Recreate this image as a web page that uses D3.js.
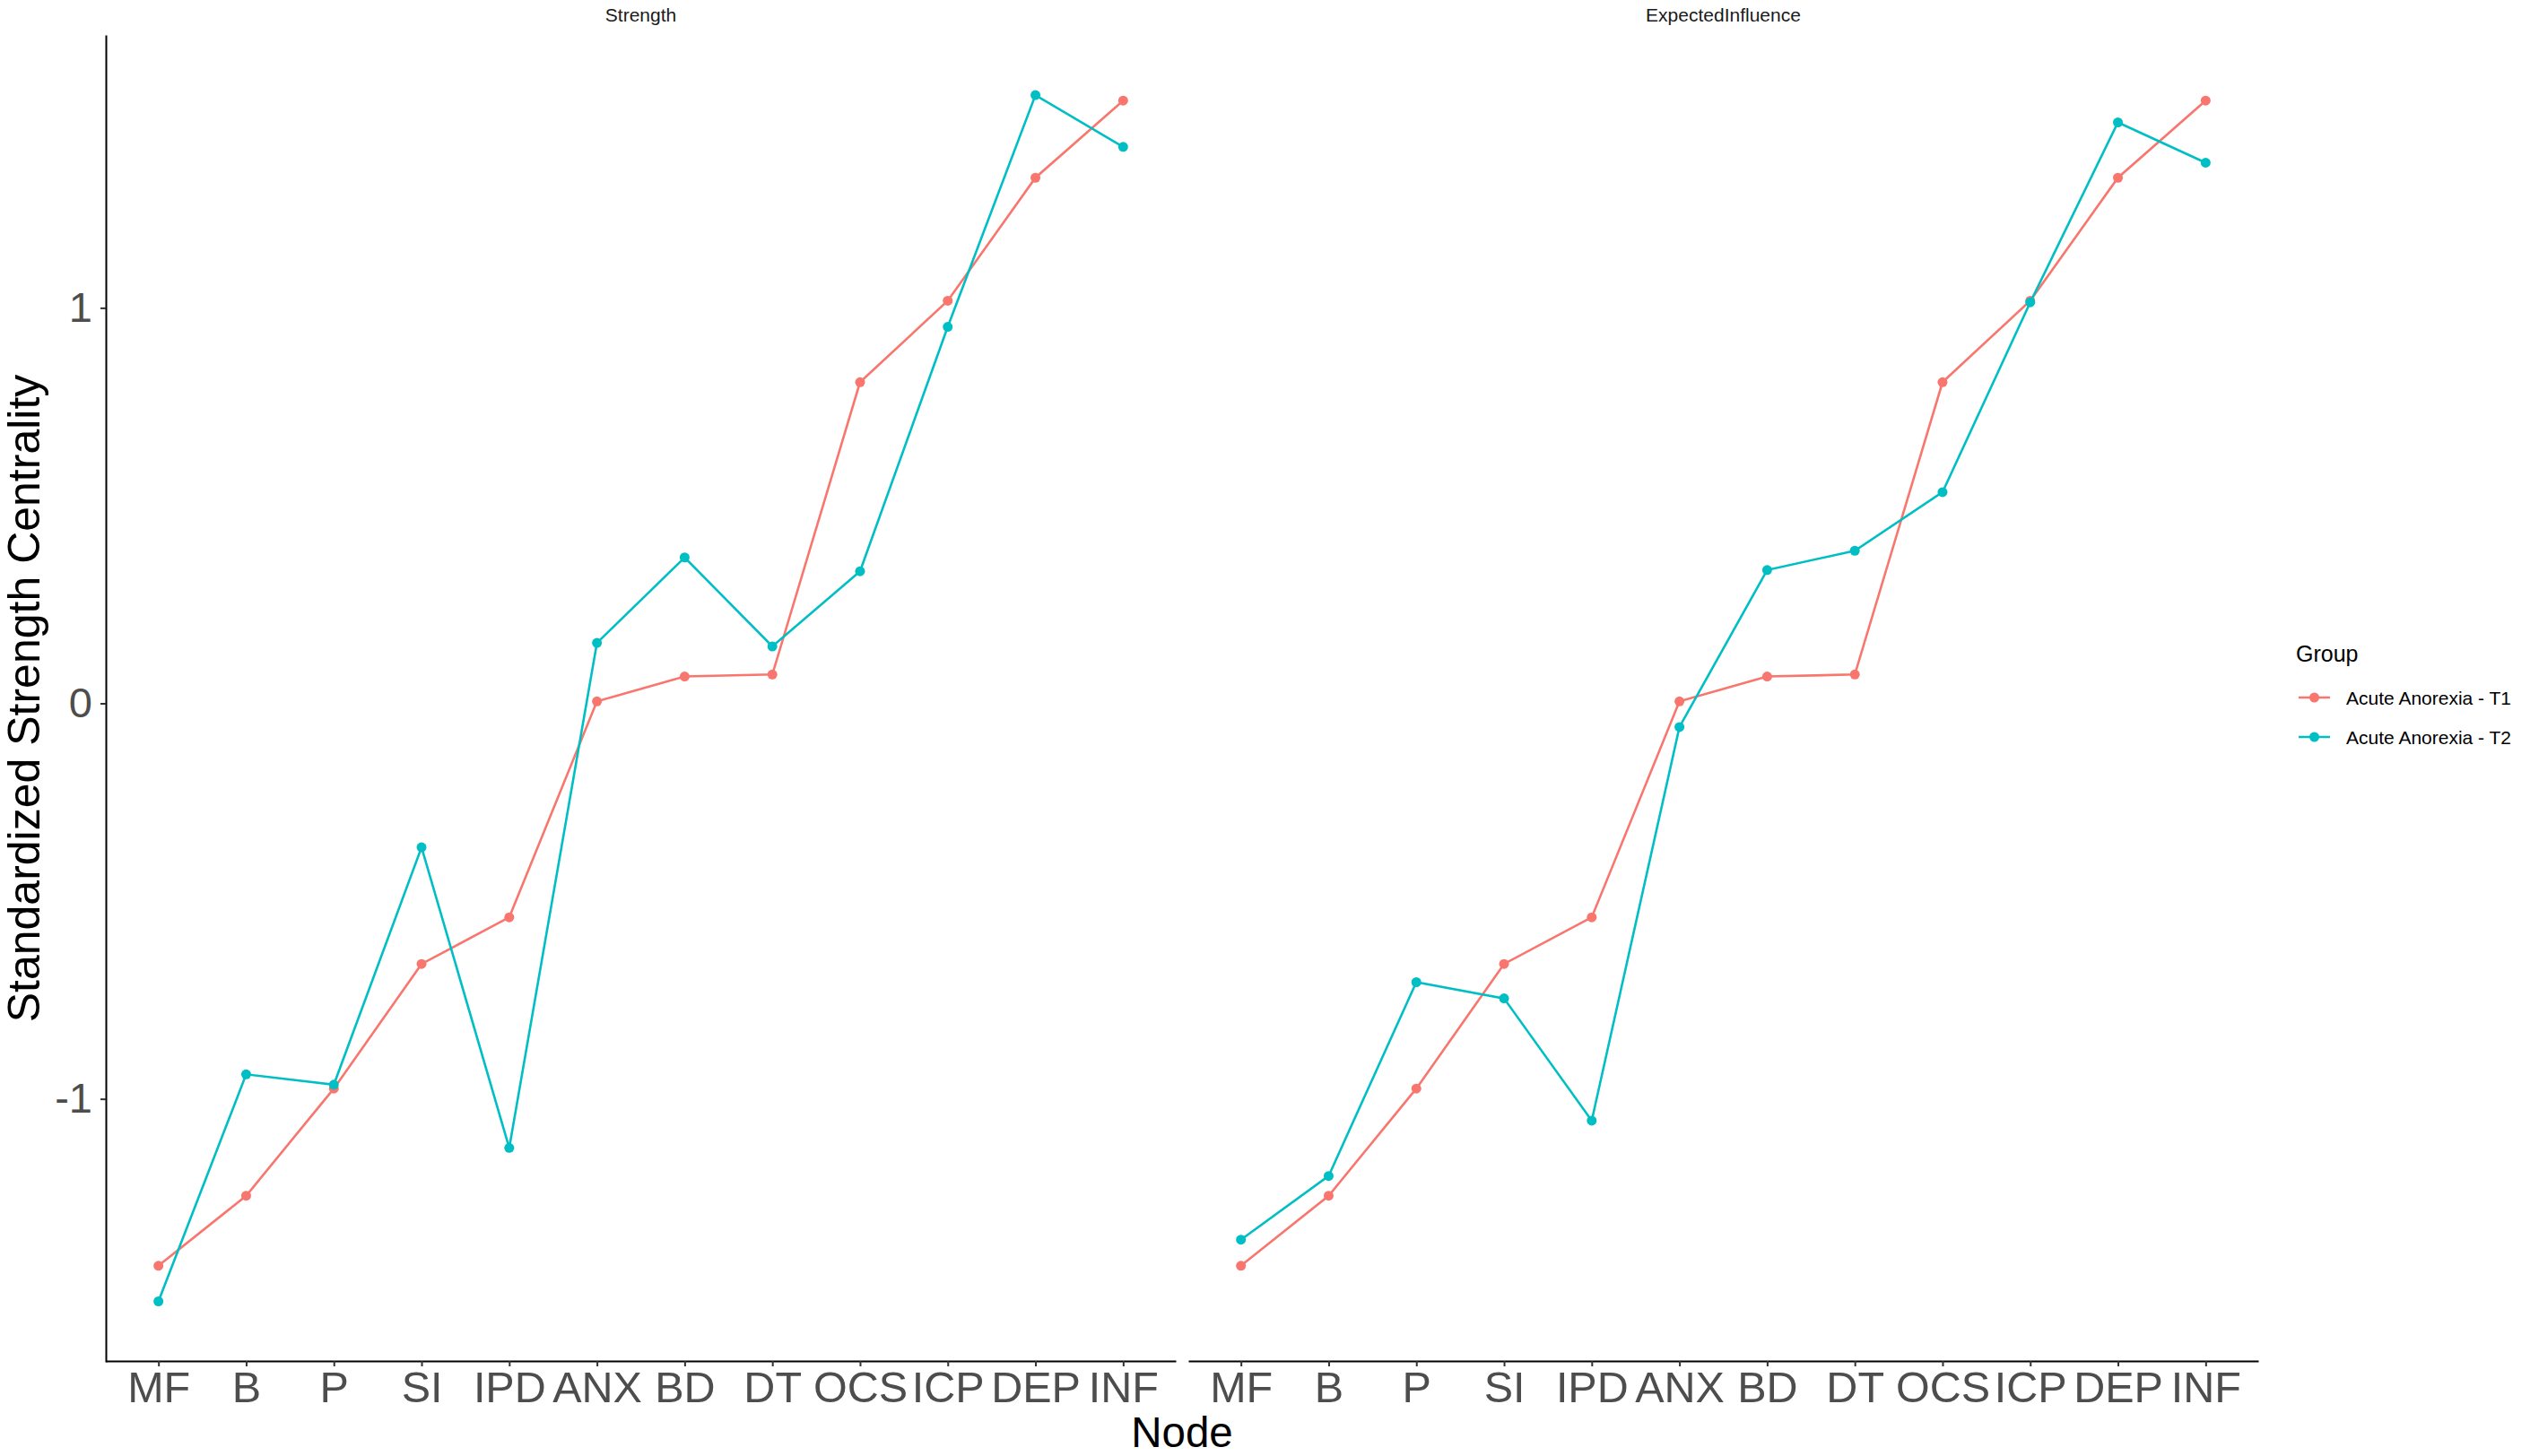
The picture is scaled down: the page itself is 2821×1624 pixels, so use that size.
<!DOCTYPE html>
<meta charset="utf-8">
<head>
    <script type="text/javascript" src="https://cdn.jsdelivr.net/npm/d3@7/dist/d3.min.js"></script>
    <style>
    body { margin: 0; background: #fff; }
    text { font-family: "Liberation Sans", Arial, sans-serif; }
    </style>
    <title>Standardized Strength Centrality</title>
</head>
<body>
<script>

    // chart values
    var nodes = ["MF", "B", "P", "SI", "IPD", "ANX", "BD", "DT", "OCS", "ICP", "DEP", "INF"];
    var panels = ["Strength", "ExpectedInfluence"];
    var groups = ["Acute Anorexia - T1", "Acute Anorexia - T2"];

    var strengthT1 = [-1.422, -1.245, -0.974, -0.659, -0.541, 0.005, 0.068, 0.073, 0.812, 1.018, 1.329, 1.524];
    var strengthT2 = [-1.512, -0.938, -0.964, -0.364, -1.124, 0.153, 0.369, 0.144, 0.334, 0.952, 1.538, 1.407];
    var influenceT1 = [-1.422, -1.245, -0.974, -0.659, -0.541, 0.005, 0.068, 0.073, 0.812, 1.018, 1.329, 1.524];
    var influenceT2 = [-1.356, -1.195, -0.705, -0.746, -1.055, -0.060, 0.337, 0.386, 0.534, 1.014, 1.469, 1.367];

    var yTicks = [-1, 0, 1];

    var colors = ["#F8766D", "#00BFC4"];

    var width = 2821, height = 1624;
    var plotTop = 39, plotBottom = 1519;
    var panelRanges = [[118, 1311], [1325, 2518]];

    var svg = d3.select('body')
        .append('svg')
        .attr('width', width)
        .attr('height', height);

    var y = d3.scaleLinear()
        .domain([-1.665, 1.69])
        .range([plotBottom, plotTop]);

    var seriesByPanel = [
        [strengthT1, strengthT2],
        [influenceT1, influenceT2]
    ];

    panels.forEach(function (name, p) {
        var x = d3.scalePoint()
            .domain(nodes)
            .range(panelRanges[p])
            .padding(0.6);

        var g = svg.append("g").attr("class", "panel");

        // panel title
        g.append("text")
            .attr("x", (panelRanges[p][0] + panelRanges[p][1]) / 2)
            .attr("y", 24)
            .attr("text-anchor", "middle")
            .style("font-size", "21px")
            .style("fill", "#1A1A1A")
            .text(name);

        // x axis
        var xAxis = g.append("g")
            .attr("transform", "translate(0," + (plotBottom - 1) + ")")
            .call(d3.axisBottom(x).tickSize(6).tickSizeOuter(0).tickPadding(6));
        xAxis.select(".domain").attr("stroke", "#000").attr("stroke-width", 2);
        xAxis.selectAll(".tick line").attr("stroke", "#333").attr("stroke-width", 2);
        xAxis.selectAll(".tick text")
            .style("font-size", "48.5px")
            .style("font-family", "'Liberation Sans', Arial, sans-serif")
            .attr("fill", "#4D4D4D");

        // y axis only on the first panel
        if (p === 0) {
            var yAxis = g.append("g")
                .attr("transform", "translate(" + panelRanges[0][0] + ",0)")
                .call(d3.axisLeft(y).tickValues(yTicks).tickFormat(d3.format("d")).tickSize(6).tickSizeOuter(0).tickPadding(9));
            yAxis.select(".domain").attr("stroke", "#000").attr("stroke-width", 2);
            yAxis.selectAll(".tick line").attr("stroke", "#333").attr("stroke-width", 2);
            yAxis.selectAll(".tick text")
                .style("font-size", "47px")
                .style("font-family", "'Liberation Sans', Arial, sans-serif")
                .attr("fill", "#4D4D4D")
                .text(function (d) { return d < 0 ? "-" + Math.abs(d) : d; });
        }

        var line = d3.line()
            .x(function (d, i) { return x(nodes[i]); })
            .y(function (d) { return y(d); });

        seriesByPanel[p].forEach(function (vals, k) {
            g.append("path")
                .datum(vals)
                .attr("d", line)
                .attr("fill", "none")
                .attr("stroke", colors[k])
                .attr("stroke-width", 2.6);

            g.selectAll(".pt" + k)
                .data(vals)
                .enter()
                .append("circle")
                .attr("cx", function (d, i) { return x(nodes[i]); })
                .attr("cy", function (d) { return y(d); })
                .attr("r", 5.5)
                .attr("fill", colors[k]);
        });
    });

    // axis titles
    svg.append("text")
        .attr("x", (panelRanges[0][0] + panelRanges[1][1]) / 2)
        .attr("y", 1614)
        .attr("text-anchor", "middle")
        .style("font-size", "47.5px")
        .style("fill", "#000")
        .text("Node");

    svg.append("text")
        .attr("transform", "translate(44," + ((plotTop + plotBottom) / 2) + ") rotate(-90)")
        .attr("text-anchor", "middle")
        .style("font-size", "50px")
        .style("fill", "#000")
        .text("Standardized Strength Centrality");

    // legend
    var legend = svg.append("g").attr("transform", "translate(2560, 0)");
    legend.append("text")
        .attr("x", 0)
        .attr("y", 738)
        .style("font-size", "25px")
        .style("fill", "#000")
        .text("Group");

    groups.forEach(function (name, k) {
        var cy = 778 + k * 44;
        legend.append("line")
            .attr("x1", 3).attr("x2", 38)
            .attr("y1", cy).attr("y2", cy)
            .attr("stroke", colors[k])
            .attr("stroke-width", 2.6);
        legend.append("circle")
            .attr("cx", 20.5).attr("cy", cy)
            .attr("r", 5.5)
            .attr("fill", colors[k]);
        legend.append("text")
            .attr("x", 56)
            .attr("y", cy + 7.5)
            .style("font-size", "21px")
            .style("fill", "#000")
            .text(name);
    });

</script>
</body>
</html>
